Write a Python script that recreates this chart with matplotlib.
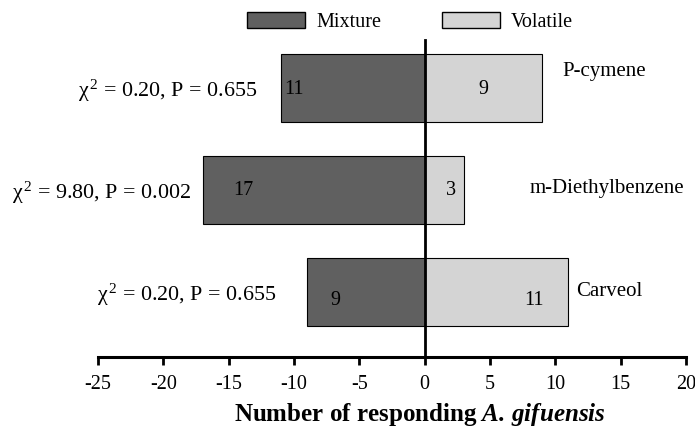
import matplotlib
matplotlib.use("Agg")
import matplotlib.pyplot as plt
from matplotlib.patches import Patch

plt.rcParams['font.family'] = ['Liberation Serif', 'DejaVu Serif']
plt.rcParams['mathtext.fontset'] = 'custom'
plt.rcParams['mathtext.rm'] = 'Liberation Serif'
plt.rcParams['mathtext.it'] = 'Liberation Serif:italic'
plt.rcParams['mathtext.bf'] = 'Liberation Serif:bold'
plt.rcParams['mathtext.bfit'] = 'Liberation Serif:bold:italic'

# data (bottom to top)
compounds = ['Carveol', 'm-Diethylbenzene', 'P-cymene']
mixture = [9, 17, 11]
volatile = [11, 3, 9]
stats = ['χ$^{\\,2}$ = 0.20, P = 0.655', 'χ$^{\\,2}$ = 9.80, P = 0.002', 'χ$^{\\,2}$ = 0.20, P = 0.655']
xticks = [-25, -20, -15, -10, -5, 0, 5, 10, 15, 20]

fig = plt.figure(figsize=(6.95, 4.3), dpi=100)
ax = fig.add_axes([0.141, 0.170, 0.846, 0.737])

y = list(range(len(compounds)))
neg = [-m for m in mixture]
ax.barh(y, neg, height=0.67, color='#606060', edgecolor='black', linewidth=0.8)
ax.barh(y, volatile, height=0.67, color='#d4d4d4', edgecolor='black', linewidth=0.8)

# count labels
mix_pos = [-6.8, -13.9, -10.0]
vol_pos = [8.4, 2.0, 4.5]
num_dy = [-0.09, -0.01, -0.02]
for i in y:
    ax.text(mix_pos[i], i + num_dy[i], str(mixture[i]), ha='center', va='center', fontsize=14.5)
    ax.text(vol_pos[i], i + num_dy[i], str(volatile[i]), ha='center', va='center', fontsize=14.5)

# stats on the left
stat_x = [-11.4, -17.9, -12.8]
for i in y:
    ax.text(stat_x[i], i - 0.03, stats[i], ha='right', va='center', fontsize=15.8)

# compound names on the right
name_x = [11.6, 8.0, 10.55]
name_dy = [0.0, 0.01, 0.16]
for i in y:
    ax.text(name_x[i], i + name_dy[i], compounds[i], ha='left', va='center', fontsize=15)

ax.set_xlim(-25, 20)
ax.set_ylim(-0.64, 2.47)
ax.set_xticks(xticks)
ax.set_xticklabels([str(t) for t in xticks], fontsize=14.5)
ax.set_yticks([])
ax.spines['top'].set_visible(False)
ax.spines['right'].set_visible(False)
ax.spines['left'].set_position(('data', 0))
ax.spines['left'].set_linewidth(2)
ax.spines['bottom'].set_linewidth(2.2)
ax.tick_params(axis='x', direction='out', length=6, width=2, pad=7)
ax.set_xlabel(r'Number of responding $\mathbfit{A.\,gifuensis}$', fontsize=18,
              fontweight='bold')
ax.xaxis.set_label_coords(0.548, -0.14)

handles = [Patch(facecolor='#606060', edgecolor='black', label='Mixture'),
           Patch(facecolor='#d4d4d4', edgecolor='black', label='Volatile')]
fig.legend(handles=handles, loc='upper center', bbox_to_anchor=(0.59, 1.015), ncol=2,
           frameon=False, fontsize=14.5, handlelength=2.9, handleheight=0.9,
           columnspacing=3.0, handletextpad=0.55)

fig.savefig('out.png', dpi=100)
